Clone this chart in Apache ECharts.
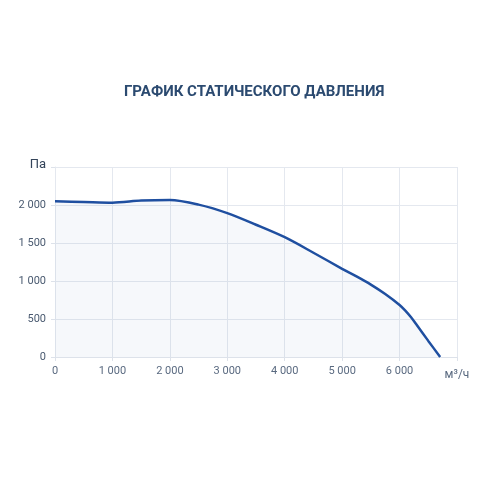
<!DOCTYPE html>
<html><head><meta charset="utf-8">
<script src="https://cdn.jsdelivr.net/npm/echarts@6/dist/echarts.min.js"></script>
<style>html,body{margin:0;padding:0;background:#fff}#c{width:500px;height:500px}</style>
</head><body><div id="c"></div>
<script>
const titleText = 'ГРАФИК СТАТИЧЕСКОГО ДАВЛЕНИЯ';
const xUnit = 'м³/ч';
const yUnit = 'Па';
const flow = [0, 500, 1000, 1500, 2000, 2500, 3000, 3500, 4000, 4500, 5000, 5250, 5500, 5750, 6000, 6100, 6200, 6300, 6500, 6707];
const pressure = [2050, 2040, 2030, 2058, 2066, 2005, 1893, 1740, 1576, 1372, 1160, 1060, 952, 828, 684, 610, 522, 420, 212, 0];

const fmt = v => String(v).replace(/\B(?=(\d{3})+(?!\d))/g, '\u00a0');
const chart = echarts.init(document.getElementById('c'));
chart.setOption({
  backgroundColor: '#fff',
  animation: false,
  title: { text: titleText, left: 119, top: 80,
    textStyle: { fontFamily: 'Roboto', fontSize: 15, fontWeight: 'bold', color: '#2b4a70' } },
  grid: { left: 55, right: 43, top: 167, bottom: 143 },
  xAxis: { type: 'value', min: 0, max: 7000, interval: 1000,
    axisLine: { show: true, lineStyle: { color: '#dde2ea' } },
    axisTick: { show: true, length: 4, lineStyle: { color: '#dde2ea' } },
    splitLine: { show: true, lineStyle: { color: '#e4e8ef' } },
    axisLabel: { color: '#5a6a80', fontFamily: 'Roboto', fontSize: 11, margin: 9,
      formatter: v => v === 7000 ? '{u|' + xUnit + '}' : fmt(v),
      rich: { u: { fontSize: 12, color: '#5a6a80', fontFamily: 'Roboto', padding: [3, 0, 0, 0] } } } },
  yAxis: { type: 'value', min: 0, max: 2500, interval: 500,
    axisLine: { show: true, lineStyle: { color: '#e4e8ef' } },
    axisTick: { show: true, length: 4, lineStyle: { color: '#dde2ea' } },
    splitLine: { show: true, lineStyle: { color: '#e4e8ef' } },
    axisLabel: { color: '#4a5a70', fontFamily: 'Roboto', fontSize: 11, margin: 9,
      formatter: v => v === 2500 ? '{u|' + yUnit + '}' : fmt(v),
      rich: { u: { fontSize: 13, color: '#34445a', fontFamily: 'Roboto', padding: [0, 0, 4, 0] } } } },
  series: [{
    type: 'line', smooth: 0.3, symbol: 'none',
    data: flow.map((x, i) => [x, pressure[i]]),
    lineStyle: { color: '#1f4fa0', width: 2.5 },
    areaStyle: { color: 'rgba(40,90,170,0.06)' }
  }]
});
</script></body></html>
